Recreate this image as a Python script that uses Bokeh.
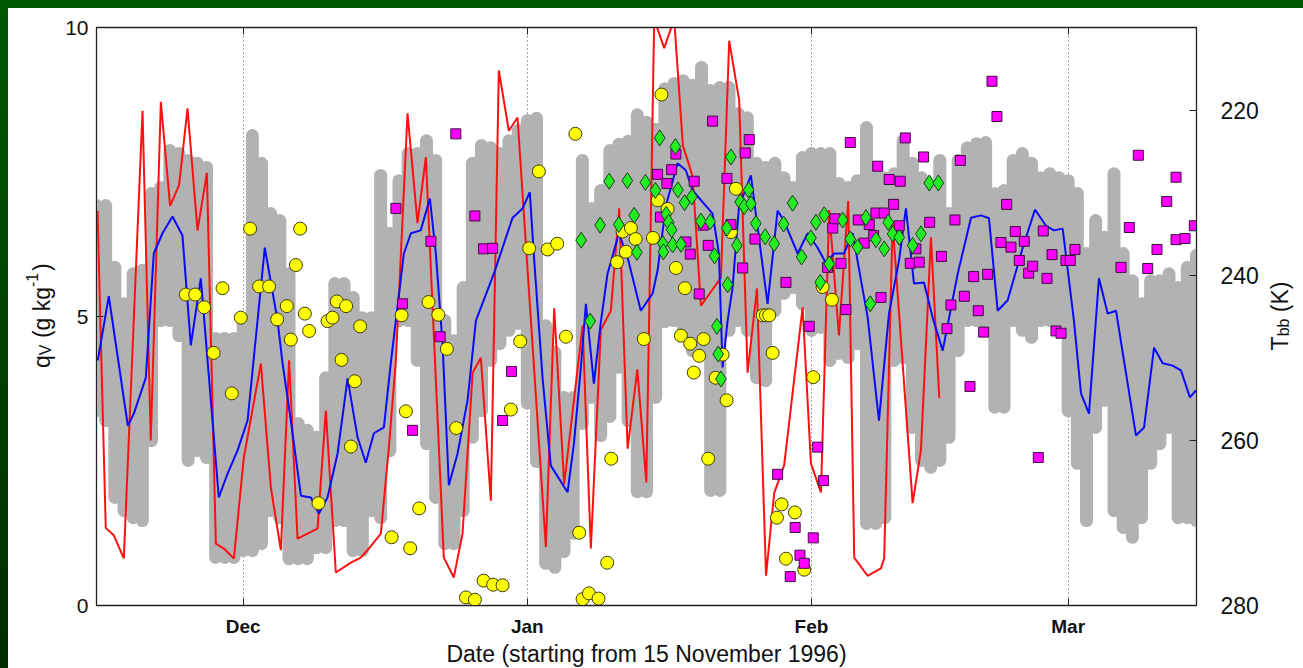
import re
from math import pi
from bokeh.plotting import figure
from bokeh.layouts import row
from bokeh.models import Range1d, LinearAxis, FixedTicker
from bokeh.core.properties import value
from bokeh.embed import file_html
from bokeh.resources import INLINE

# ---------------- data (days since 15 Nov 1996) ----------------
month_days = [16, 47, 78, 106]
month_labels = ["Dec", "Jan", "Feb", "Mar"]
q_ticks = [0, 5, 10]
tbb_ticks = [220, 240, 260, 280]

gray_day = list(range(0, 121))
gray_lo = [3.37, 3.20, 1.87, 1.64, 1.52, 1.47, 2.85, 4.93, 4.93, 4.67,
           2.51, 2.68, 2.56, 0.83, 0.83, 0.83, 0.95, 0.95, 1.07, 1.64,
           1.52, 0.81, 0.81, 0.81, 1.00, 1.00, 1.47, 1.47, 0.95, 0.95,
           1.64, 1.52, 2.68, 4.93, 4.93, 4.24, 2.80, 1.87, 1.07, 1.07,
           1.64, 2.91, 3.37, 4.24, 4.53, 4.76, 4.88, 3.50, 2.49, 0.73,
           0.66, 0.93, 1.25, 3.15, 3.60, 2.94, 3.27, 4.12, 3.20, 1.97,
           1.97, 3.60, 4.91, 4.93, 4.76, 4.41, 4.41, 1.99, 1.99, 4.76,
           4.93, 4.76, 3.94, 3.89, 5.10, 5.40, 5.50, 5.22, 4.76, 4.81,
           4.24, 4.36, 4.29, 4.53, 1.42, 1.42, 1.52, 4.24, 4.29, 3.08,
           2.51, 2.39, 2.51, 2.91, 4.41, 4.93, 4.93, 4.81, 3.43, 3.43,
           4.93, 4.76, 4.64, 4.93, 4.93, 4.81, 3.37, 2.46, 1.47, 3.08,
           3.55, 1.64, 1.35, 1.18, 1.52, 2.46, 2.80, 3.08, 1.52, 1.52,
           1.47]
gray_hi = [6.92, 6.92, 5.85, 5.22, 5.74, 5.80, 7.13, 7.23, 7.87, 7.82,
           7.70, 7.65, 7.58, 4.62, 4.62, 4.62, 4.93, 8.13, 7.65, 6.78,
           6.66, 5.74, 3.15, 3.03, 2.91, 3.94, 5.57, 5.57, 5.33, 4.98,
           4.98, 7.44, 6.44, 7.35, 7.82, 7.82, 8.04, 7.70, 4.93, 4.58,
           5.50, 7.65, 7.96, 7.92, 7.82, 8.04, 8.22, 8.39, 8.43, 4.84,
           4.38, 3.60, 3.60, 7.70, 6.87, 7.18, 7.87, 7.98, 8.03, 8.49,
           8.36, 8.24, 8.94, 9.03, 9.08, 9.00, 9.31, 8.91, 8.96, 8.96,
           8.51, 8.44, 7.65, 7.58, 7.65, 7.40, 7.23, 7.75, 7.82, 7.82,
           7.82, 7.30, 7.23, 7.35, 8.27, 7.47, 7.40, 7.47, 8.04, 7.65,
           7.40, 7.23, 7.70, 6.78, 7.70, 7.92, 7.99, 8.01, 7.13, 7.18,
           7.70, 7.82, 7.65, 7.40, 7.47, 7.40, 7.35, 7.13, 6.09, 6.66,
           6.37, 7.47, 6.09, 5.62, 5.22, 5.62, 5.62, 5.74, 5.50, 5.85,
           6.06]

blue_day = [0.14, 1.34, 3.42, 4.07, 5.38, 6.25, 7.2, 8.29, 9.38, 10.29,
            11.38, 13.34, 14.3, 15.38, 16.48, 18.36, 19.75, 20.3, 21.2, 22.3,
            23.38, 24.26, 25.2, 26.3, 27.39, 28.48, 29.38, 30.26, 31.35, 32.1,
            33.53, 34.3, 35.37, 36.37, 37.02, 37.75, 38.44, 39.39, 40.48, 41.39,
            43.35, 45.39, 46.48, 47.27, 47.7, 48.66, 49.56, 51.39, 52.08, 52.84,
            53.39, 54.26, 55.0, 55.75, 56.99, 57.94, 59.38, 60.67, 61.21, 62.12,
            63.39, 64.29, 65.03, 67.21, 67.9, 68.3, 68.85, 69.39, 70.08, 71.39,
            72.12, 73.21, 74.3, 74.99, 76.49, 77.58, 78.67, 79.58, 80.45, 81.54,
            82.49, 84.13, 85.36, 86.45, 87.55, 88.3, 89.18, 90.27, 91.22, 92.31,
            93.95, 95.4, 96.49, 97.36, 98.31, 99.4, 101.04, 102.38, 103.58, 104.45,
            105.4, 106.63, 107.4, 108.27, 109.36, 110.31, 111.22, 113.4, 114.28, 115.37,
            116.31, 117.4, 118.3, 119.28, 119.93]
blue_q = [4.24, 5.35, 3.11, 3.32, 3.94, 6.09, 6.44, 6.73, 6.40, 4.50,
          5.66, 1.87, 2.28, 2.68, 3.20, 6.19, 4.93, 4.19, 3.20, 1.90,
          1.87, 1.59, 1.87, 2.63, 3.93, 2.91, 2.47, 2.98, 3.08, 4.19,
          6.09, 6.44, 6.49, 7.04, 6.09, 4.53, 2.08, 2.63, 3.55, 4.93,
          5.74, 6.71, 6.87, 7.15, 6.09, 3.94, 2.42, 1.96, 2.80, 4.12,
          5.22, 3.84, 4.88, 5.74, 6.44, 6.02, 5.10, 5.40, 5.80, 6.92,
          7.65, 7.53, 7.18, 6.78, 6.09, 4.12, 4.93, 5.50, 6.89, 7.44,
          6.54, 5.22, 6.83, 6.66, 6.09, 6.44, 6.19, 5.92, 6.09, 6.09,
          6.44, 4.98, 3.20, 5.05, 5.97, 6.87, 5.57, 5.59, 4.98, 4.41,
          5.74, 6.71, 6.75, 6.70, 5.10, 5.28, 6.19, 6.85, 6.57, 6.49,
          6.52, 4.93, 3.67, 3.32, 5.66, 5.05, 5.10, 2.94, 3.08, 4.46,
          4.19, 4.15, 4.07, 3.60, 3.72]

red_day = [0.11, 1.01, 1.89, 2.98, 5.02, 5.92, 7.02, 8.03, 9.01, 9.93,
           11.02, 12.04, 13.02, 13.9, 14.99, 16.07, 17.93, 19.02, 20.11, 21.01,
           21.93, 24.11, 25.02, 26.11, 27.75, 28.84, 29.71, 31.02, 31.89, 32.66,
           33.93, 35.02, 35.93, 37.89, 38.98, 39.93, 41.03, 41.93, 43.02, 43.89,
           44.98, 45.93, 49.02, 49.93, 51.02, 53.03, 53.93, 55.02, 56.11, 57.02,
           57.94, 59.0, 59.98, 60.84, 61.93, 63.02, 63.97, 65.03, 65.94, 68.12,
           69.02, 70.11, 71.03, 72.05, 73.04, 73.93, 75.02, 77.03, 77.94, 79.03,
           79.93, 80.99, 82.01, 82.66, 84.12, 85.57, 85.93, 86.85, 89.03, 89.94,
           91.03, 91.94]
red_tbb = [232.2, 270.6, 271.5, 274.3, 220.1, 260.0, 219.0, 231.6, 229.1, 219.8,
           234.6, 227.6, 272.5, 273.1, 274.3, 262.1, 250.7, 265.7, 273.3, 250.3,
           271.9, 270.7, 256.4, 276.0, 274.8, 274.2, 273.1, 271.3, 260.9, 250.3,
           220.4, 233.7, 225.7, 274.2, 276.6, 271.3, 251.8, 250.0, 267.3, 215.2,
           222.5, 220.9, 272.9, 244.0, 265.3, 246.1, 273.1, 246.6, 244.3, 231.9,
           261.0, 251.4, 265.1, 209.0, 212.5, 209.0, 224.3, 228.0, 243.7, 240.3,
           211.6, 218.8, 251.8, 241.6, 276.4, 266.4, 263.0, 243.9, 262.8, 266.3,
           232.1, 247.3, 231.0, 274.2, 276.4, 275.5, 274.3, 233.7, 267.6, 261.2,
           235.4, 254.9]

yellow_day = [9.74, 10.76, 11.74, 12.77, 13.75, 14.76, 15.74, 16.76, 17.74, 18.83,
              19.71, 20.76, 21.2, 21.75, 22.22, 22.73, 23.2, 24.22, 25.2, 25.75,
              26.22, 26.73, 27.23, 27.75, 28.18, 28.76, 32.19, 33.28, 33.75, 34.22,
              35.2, 36.22, 37.29, 38.22, 39.24, 40.3, 41.28, 42.23, 43.27, 44.3,
              45.2, 46.22, 47.2, 48.26, 49.21, 50.26, 51.21, 52.24, 52.66, 53.03,
              53.72, 54.77, 55.71, 56.15, 56.8, 57.39, 57.75, 58.3, 58.81, 59.71,
              60.7, 61.23, 61.63, 62.3, 63.21, 64.19, 63.75, 64.77, 66.23, 65.75,
              65.16, 67.54, 66.73, 68.3, 68.74, 69.21, 69.76, 72.67, 73.03, 73.39,
              73.76, 74.23, 74.74, 75.21, 76.19, 77.21, 78.19, 79.21, 80.23]
yellow_q = [5.38, 5.38, 5.16, 4.37, 5.49, 3.67, 4.98, 6.52, 5.52, 5.52,
            4.95, 5.18, 4.60, 5.89, 6.52, 5.05, 4.75, 1.77, 4.92, 4.98,
            5.26, 4.25, 5.18, 2.75, 3.88, 4.83, 1.18, 5.02, 3.36, 0.99,
            1.68, 5.25, 5.03, 4.44, 3.07, 0.14, 0.10, 0.43, 0.36, 0.35,
            3.39, 4.57, 6.18, 7.51, 6.16, 6.26, 4.65, 8.16, 1.26, 0.11,
            0.21, 0.12, 0.74, 2.54, 5.94, 6.47, 6.12, 6.53, 6.34, 4.61,
            6.36, 7.01, 8.84, 6.86, 5.84, 5.49, 4.67, 4.53, 4.61, 4.32,
            4.03, 3.94, 2.54, 4.34, 3.55, 6.46, 7.21, 5.02, 5.02, 5.02,
            4.37, 1.52, 1.75, 0.81, 1.61, 0.62, 3.95, 5.51, 5.29]

magenta_day = [32.66, 33.39, 34.48, 36.48, 37.49, 39.2, 41.28, 42.23, 43.21, 44.3,
               45.28, 61.21, 61.52, 62.23, 62.74, 63.21, 64.3, 64.77, 65.2, 65.75,
               66.18, 66.73, 67.21, 68.77, 69.21, 70.49, 70.77, 71.21, 71.83, 74.3,
               75.21, 75.68, 76.22, 76.74, 77.21, 77.75, 78.19, 78.67, 79.32, 79.76,
               80.31, 80.56, 81.21, 81.75, 82.23, 83.1, 83.75, 84.3, 84.78, 85.03,
               85.22, 85.58, 85.94, 86.48, 86.96, 87.57, 87.68, 88.23, 88.77, 89.39,
               89.75, 90.23, 90.89, 92.18, 92.78, 93.21, 93.65, 94.23, 94.67, 95.29,
               95.69, 96.19, 96.78, 97.22, 97.69, 98.23, 98.67, 99.29, 99.76, 100.23,
               100.67, 101.21, 101.69, 102.13, 102.74, 103.28, 103.69, 104.24, 104.67, 105.22,
               105.76, 106.23, 106.74, 111.76, 112.67, 113.65, 114.68, 115.69, 116.75, 117.77,
               117.77, 118.75, 119.76]
magenta_q = [6.87, 5.22, 3.03, 6.30, 4.65, 8.16, 6.74, 6.17, 6.18, 3.20,
             4.05, 7.46, 6.72, 7.30, 7.54, 7.81, 6.29, 6.08, 7.34, 5.39,
             6.58, 6.23, 8.38, 7.39, 6.59, 5.84, 7.83, 8.06, 6.34, 2.27,
             5.59, 0.50, 1.35, 0.87, 0.73, 4.83, 1.17, 2.74, 2.16, 5.85,
             6.53, 6.69, 5.92, 5.12, 8.01, 6.67, 6.27, 6.59, 6.40, 6.79,
             7.60, 5.33, 6.79, 7.37, 6.94, 6.57, 7.34, 8.09, 5.92, 6.17,
             5.94, 7.76, 6.63, 6.04, 4.79, 5.20, 6.67, 7.70, 5.35, 3.79,
             5.69, 5.10, 4.73, 5.73, 9.07, 8.46, 6.28, 6.94, 6.20, 6.47,
             5.97, 6.30, 5.75, 5.87, 2.56, 6.48, 5.66, 6.07, 4.75, 4.71,
             5.97, 5.97, 6.16, 5.85, 6.54, 7.79, 5.83, 6.16, 6.99, 7.41,
             6.33, 6.35, 6.57]

green_day = [52.87, 53.86, 54.94, 55.93, 56.97, 57.91, 58.66, 58.95, 59.88, 60.97,
             61.44, 61.78, 61.84, 62.15, 62.42, 62.74, 62.85, 63.15, 63.43, 63.76,
             64.15, 64.95, 65.94, 66.94, 67.42, 67.68, 67.82, 68.12, 68.77, 68.85,
             69.21, 69.86, 70.22, 70.66, 71.14, 71.39, 71.93, 72.95, 73.93, 74.96,
             75.94, 76.92, 77.94, 78.48, 78.95, 79.39, 79.93, 81.4, 82.23, 83.03,
             83.94, 84.41, 85.03, 85.94, 86.37, 86.85, 87.57, 89.03, 89.94, 90.85,
             91.83]
green_q = [6.32, 4.92, 6.58, 7.34, 6.59, 7.35, 6.75, 6.11, 7.32, 7.18,
           8.09, 6.26, 6.12, 6.77, 6.63, 6.50, 6.24, 7.94, 7.19, 6.25,
           6.97, 7.07, 6.65, 6.64, 6.05, 4.83, 4.35, 3.92, 6.53, 5.55,
           7.76, 6.23, 6.98, 6.90, 7.19, 6.95, 6.61, 6.38, 6.26, 6.60,
           6.96, 6.03, 6.36, 6.63, 5.59, 6.76, 5.91, 6.67, 6.34, 6.20,
           6.71, 5.22, 6.33, 6.17, 6.63, 6.43, 6.37, 6.23, 6.43, 7.31,
           7.31]

FONT = "Liberation Sans"
TXT = "#111111"
FRAME_H = 578
B_TOP, B_BOT = 19, 63
LEFT_W = 48
RIGHT_W = 43

# ---------------- main figure ----------------
p = figure(frame_width=1100, frame_height=FRAME_H,
           min_border_left=88 - LEFT_W, min_border_right=64,
           min_border_top=B_TOP, min_border_bottom=B_BOT,
           x_range=Range1d(0, 120), y_range=Range1d(0, 10),
           output_backend="svg", toolbar_location=None,
           background_fill_color="white", border_fill_color="white")
p.extra_y_ranges = {"tbb": Range1d(280, 210)}
p.outline_line_color = "#222222"
p.outline_line_width = 1.3

p.ygrid.visible = False
p.xgrid.ticker = FixedTicker(ticks=month_days)
p.xgrid.grid_line_color = "#555555"
p.xgrid.grid_line_dash = "1 3"
p.xgrid.grid_line_width = 1


def style_axis(ax, size="21px", bold=False):
    ax.major_tick_in = 7
    ax.major_tick_out = 0
    ax.minor_tick_line_color = None
    ax.axis_line_color = "#222222"
    ax.major_tick_line_color = "#222222"
    ax.major_label_text_font = FONT
    ax.major_label_text_font_size = size
    ax.major_label_text_color = TXT
    if bold:
        ax.major_label_text_font_style = "bold"


xa = p.xaxis[0]
xa.ticker = FixedTicker(ticks=month_days)
xa.major_label_overrides = {d: m for d, m in zip(month_days, month_labels)}
style_axis(xa, "19px", bold=True)
xa.major_label_standoff = 10
xa.axis_label = "Date (starting from 15 November 1996)"
xa.axis_label_text_font = FONT
xa.axis_label_text_font_size = "23px"
xa.axis_label_text_font_style = "normal"
xa.axis_label_text_color = TXT
xa.axis_label_standoff = 1

ya = p.yaxis[0]
ya.ticker = FixedTicker(ticks=q_ticks)
style_axis(ya, "21px")
ya.major_label_standoff = 8

ra = LinearAxis(y_range_name="tbb", ticker=FixedTicker(ticks=tbb_ticks))
style_axis(ra, "23px")
ra.major_label_standoff = 24
p.add_layout(ra, "right")

ta = LinearAxis(ticker=FixedTicker(ticks=month_days))
style_axis(ta, "1px")
ta.major_label_text_alpha = 0
p.add_layout(ta, "above")

p.segment(x0=gray_day, y0=gray_lo, x1=gray_day, y1=gray_hi,
          line_color="#b2b2b2", line_width=13, line_cap="round")
p.line(red_day, red_tbb, y_range_name="tbb", line_color="#ff1010", line_width=2)
p.line(blue_day, blue_q, line_color="#0a0aff", line_width=2)
p.scatter(yellow_day, yellow_q, marker="circle", size=13,
          fill_color="#ffff00", line_color="#3a3a10", line_width=1)
p.scatter(magenta_day, magenta_q, marker="square", size=10,
          fill_color="#ff00ff", line_color="#3a103a", line_width=1)
p.scatter(green_day, green_q, marker="diamond", size=16,
          fill_color="#22ee22", line_color="#1a3a1a", line_width=1)


# ---------------- side strips holding the rotated axis titles ----------------
# strip frames share the main frame's vertical extent; 1 data unit = 1 px
def strip(w):
    f = figure(width=w, height=FRAME_H + B_TOP + B_BOT,
               x_range=Range1d(0, w), y_range=Range1d(0, FRAME_H),
               min_border_left=0, min_border_right=0,
               min_border_top=B_TOP, min_border_bottom=B_BOT,
               output_backend="svg", toolbar_location=None,
               x_axis_location=None, y_axis_location=None,
               background_fill_color="white", border_fill_color="white")
    f.outline_line_color = None
    f.xgrid.visible = False
    f.ygrid.visible = False
    return f


def rtext(f, x, y, s, size):
    f.text(x=[x], y=[y], text=[s], angle=pi / 2, text_align="left",
           text_baseline="alphabetic", text_font=value(FONT),
           text_font_size=value(size), text_color=TXT)


mid = FRAME_H / 2

lf = strip(LEFT_W)
bx, y0 = 33, mid - 52
rtext(lf, bx, y0, "q", "23px")
rtext(lf, bx + 4, y0 + 12.8, "V", "16px")
rtext(lf, bx, y0 + 29.9, "(g kg", "23px")
rtext(lf, bx - 10, y0 + 81.0, "-1", "16px")
rtext(lf, bx, y0 + 97.0, ")", "23px")

rf = strip(RIGHT_W)
rx, r0 = 18, mid - 34.5
rtext(rf, rx, r0, "T", "23px")
rtext(rf, rx + 4, r0 + 14.1, "bb", "16px")
rtext(rf, rx, r0 + 38.3, "(K)", "23px")

layout = row(lf, p, rf, spacing=0)

html = file_html(layout, INLINE)
m = re.compile(r"<html[^>]*>").search(html)
html = (html[:m.start()]
        + '<html lang="en" style="background: linear-gradient(to bottom, #005800, #002c00);">'
        + html[m.end():])
head_end = html.find("</head>")
m = re.compile(r"<body[^>]*>").search(html, head_end)
html = (html[:m.start()]
        + '<body style="margin:8px 0 0 8px; background:#ffffff;">'
        + html[m.end():])
open("out.html", "w").write(html)
